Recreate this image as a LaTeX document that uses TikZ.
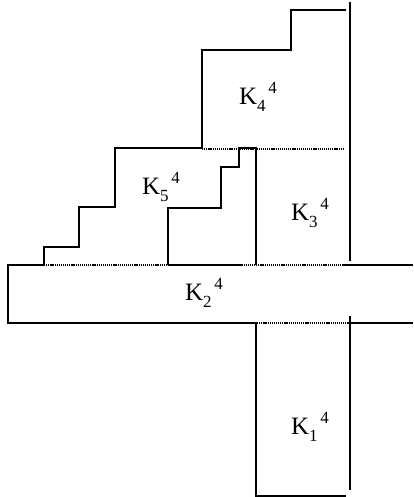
\documentclass[tikz,border=0pt]{standalone}
\usepackage{fontspec}
\setmainfont{Liberation Serif}
\newcommand\klab[1]{\fontsize{25}{28}\selectfont K\raisebox{-0.28em}{\fontsize{17}{17}\selectfont #1}\raisebox{0.42em}{\fontsize{17}{17}\selectfont\,4}}
\begin{document}
\begin{tikzpicture}[x=1pt,y=-1pt,
  wall/.style={line width=1.9pt,line join=miter},
  thin/.style={line width=1.1pt,dash pattern=on 1.2pt off 0.9pt},
  lab/.style={inner sep=0pt}]
\useasboundingbox (0,0) rectangle (413,497);
% outer staircase
\draw[wall] (346,10) -- (291,10) -- (291,50) -- (202,50) -- (202,148) -- (115,148) -- (115,207) -- (79,207) -- (79,247) -- (44,247) -- (44,265);
% right vertical top
\draw[wall] (350,2) -- (350,261);
% dotted separator K4/K3
\draw[thin] (202,149) -- (344,149);
% inner staircase
\draw[wall] (168,265) -- (168,208) -- (221,208) -- (221,167) -- (239,167) -- (239,148) -- (256,148) -- (256,265);
\draw[wall] (168,265) -- (239,265);
% K2 bar
\draw[wall] (44,265) -- (8,265) -- (8,323) -- (257,323);
\draw[thin] (44,265) -- (343,265);
\draw[wall] (343,265) -- (413,265);
\draw[thin] (257,323) -- (350,323);
\draw[wall] (350,323) -- (413,323);
% K1
\draw[wall] (256,323) -- (256,496) -- (346,496);
\draw[wall] (350,316) -- (350,490);
% labels
\node[lab] (k4) at (258,97) {\klab{4}};
\node[lab] (k5) at (161,187) {\klab{5}};
\node[lab] (k3) at (310,213) {\klab{3}};
\node[lab] (k2) at (204,293) {\klab{2}};
\node[lab] (k1) at (310,427) {\klab{1}};
\end{tikzpicture}
\end{document}
